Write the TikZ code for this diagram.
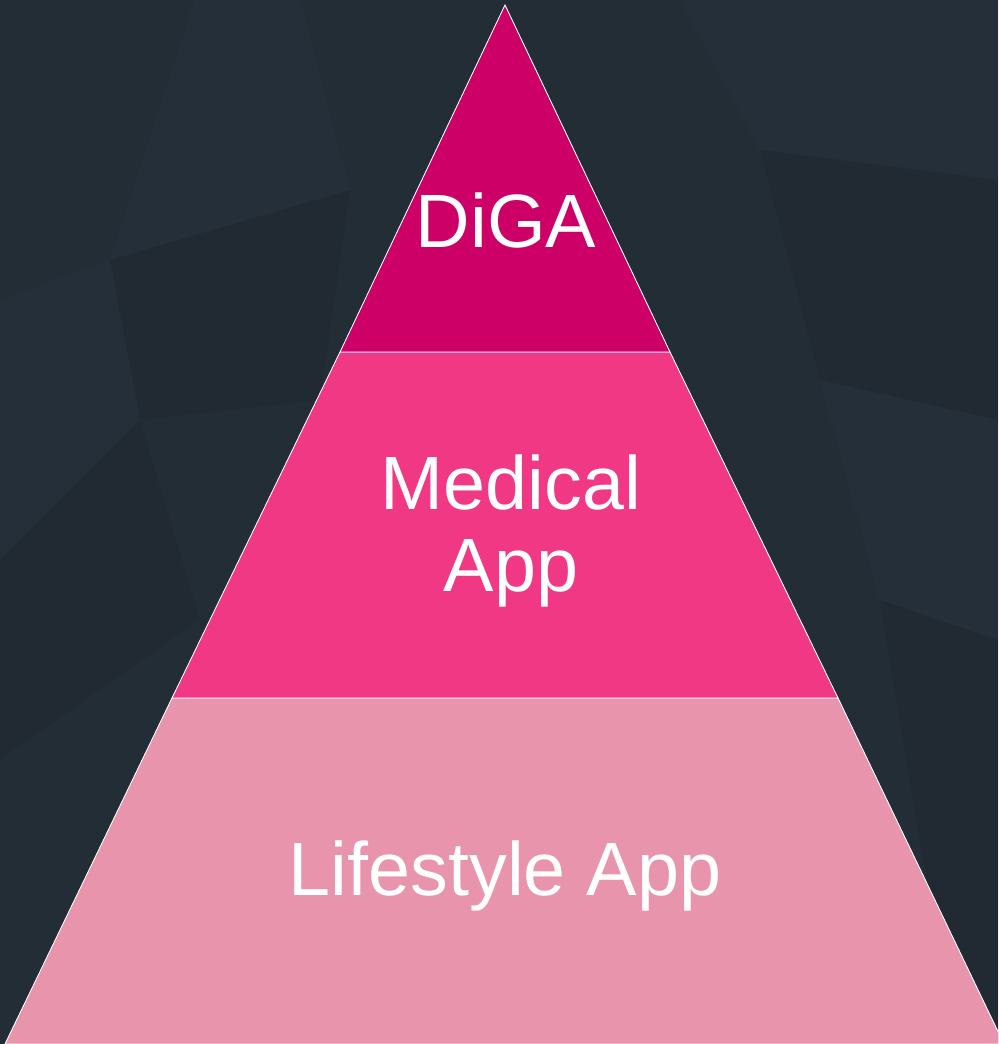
\documentclass[tikz,border=0pt]{standalone}
\usepackage{fontspec}
\setmainfont{Liberation Sans}
\usepackage{xcolor}
\definecolor{bgdark}{HTML}{232D36}
\definecolor{bglight}{HTML}{27333D}
\definecolor{bgdeep}{HTML}{1F272E}
\definecolor{levelone}{HTML}{CC0066}
\definecolor{leveltwo}{HTML}{F03884}
\definecolor{levelthree}{HTML}{E994AD}

\begin{document}
\begin{tikzpicture}[x=0.02cm, y=-0.02cm]
    \tikzset{level/.style={draw=white, line width=0.5pt, line join=miter},
             label/.style={text=white, font=\fontsize{43}{47}\selectfont, align=center, inner sep=0pt},
             facet/.style={opacity=0.45}}
    \useasboundingbox (0,0) rectangle (998,1044);
    \clip (0,0) rectangle (998,1044);
    \fill [bgdark] (0,0) rectangle (998,1044);
    % faint facets in the background
    \fill [bglight, facet] (195,0) -- (300,0) -- (350,190) -- (110,260) -- cycle;
    \fill [bgdeep, facet] (110,260) -- (350,190) -- (320,400) -- (140,420) -- cycle;
    \fill [bglight, facet] (0,300) -- (110,260) -- (140,420) -- (0,560) -- cycle;
    \fill [bgdeep, facet] (0,560) -- (140,420) -- (200,620) -- (0,760) -- cycle;
    \fill [bglight, facet] (680,0) -- (998,0) -- (998,180) -- (760,150) -- cycle;
    \fill [bgdeep, facet] (760,150) -- (998,180) -- (998,420) -- (820,380) -- cycle;
    \fill [bglight, facet] (820,380) -- (998,420) -- (998,640) -- (880,600) -- cycle;
    \fill [bgdeep, facet] (880,600) -- (998,640) -- (998,1044) -- (930,900) -- cycle;
    % pyramid corners
    \coordinate (top) at (505, 5);
    \coordinate (l1) at (340, 352);
    \coordinate (r1) at (670, 352);
    \coordinate (l2) at (172, 698);
    \coordinate (r2) at (838, 698);
    \coordinate (l3) at (5, 1044);
    \coordinate (r3) at (1004, 1044);
    \draw [level, fill=levelthree] (l2) -- (r2) -- (r3) -- (l3) -- cycle;
    \draw [level, fill=leveltwo] (l1) -- (r1) -- (r2) -- (l2) -- cycle;
    \draw [level, fill=levelone] (top) -- (r1) -- (l1) -- cycle;
    % level names
    \node (diga) at (506, 247) [label, anchor=base] {DiGA};
    \node (medical) at (511, 531) [label] {Medical\\App};
    \node (lifestyle) at (505, 895) [label, anchor=base] {Lifestyle App};
\end{tikzpicture}
\end{document}
